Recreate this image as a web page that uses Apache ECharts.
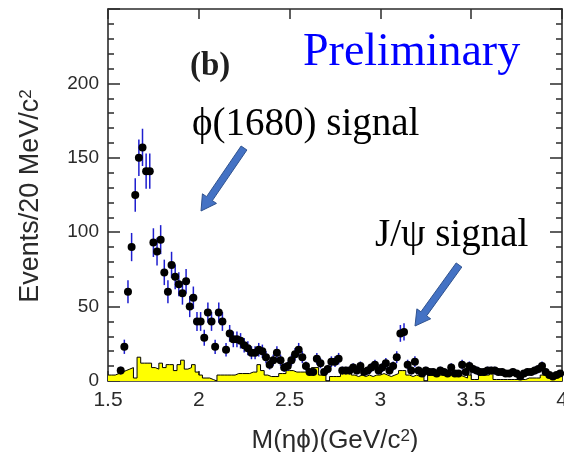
<!DOCTYPE html>
<html>
<head>
<meta charset="utf-8">
<title>M(ηϕ) spectrum</title>
<script src="https://cdn.jsdelivr.net/npm/echarts@6/dist/echarts.min.js"></script>
<style>
  html, body { margin: 0; padding: 0; background: #ffffff; }
  #chart { width: 564px; height: 452px; }
</style>
</head>
<body>
<div id="chart"></div>
<script>
// Events per 20 MeV/c^2 bin; first data bin centred at 1.57 GeV/c^2
const DATA_FIRST_CENTER = 1.57;
const BIN_WIDTH = 0.02;
const dataCounts = [
  7, 23, 60, 90, 125, 150, 157, 141, 141, 93,
  87, 95, 73, 60, 78, 70, 65, 59, 67, 50,
  56, 40, 40, 29, 46, 40, 23, 46, 40, 21,
  32, 28, 28, 27, 24, 22, 19, 19, 21, 20,
  16, 11, 14, 19, 14, 9, 10, 14, 18, 21,
  16, 10, 6, 6, 15, 12, 6, 8, 13, 13,
  15, 7, 7, 7, 9, 7, 10, 6, 7, 9,
  11, 7, 9, 12, 7, 10, 16, 32, 33, 11,
  7, 13, 7, 5, 7, 6, 6, 5, 7, 6,
  5, 9, 5, 5, 11, 6, 10, 8, 7, 6,
  6, 7, 7, 7, 6, 6, 5, 5, 6, 5,
  3, 5, 6, 6, 7, 8, 10, 6, 4, 3,
  4, 5
];

// Background histogram (filled), bins of 20 MeV/c^2 starting at 1.50 GeV/c^2
const HIST_FIRST_EDGE = 1.50;
const histCounts = [
  4, 4, 5, 6, 7, 8, 9, 2, 16, 12,
  12, 12, 9, 8, 12, 9, 11, 11, 7, 11,
  14, 8, 9, 11, 6, 4, 2, 2, 1, 0,
  4, 4, 4, 4, 4, 5, 5, 5, 5, 6,
  6, 11, 7, 4, 3, 3, 3, 5, 5, 7,
  7, 6, 6, 6, 6, 7, 9, 9, 4, 4,
  0, 3, 3, 3, 5, 6, 6, 4, 3, 4,
  3, 4, 3, 4, 4, 5, 4, 3, 4, 5,
  7, 7, 4, 3, 4, 3, 3, 0, 4, 4,
  4, 4, 4, 4, 4, 4, 4, 3, 2, 4,
  1, 1, 4, 4, 4, 6, 1, 1, 1, 1,
  1, 1, 1, 1, 1, 2, 2, 2, 2, 4,
  4, 4, 4, 4, 6
];

// Axis ranges and tick labels
const X_RANGE = [1.5, 4.0];
const X_STEP = 0.5;
const xTickLabels = ['1.5', '2', '2.5', '3', '3.5', '4'];
const Y_RANGE = [0, 250];
const Y_STEP = 50;
const yTickLabels = ['0', '50', '100', '150', '200'];

const round2 = v => Math.round(v * 100) / 100;

// Build the series data from the arrays above
const points = dataCounts.map((n, i) => [round2(DATA_FIRST_CENTER + i * BIN_WIDTH), n]);
const errors = dataCounts.map((n, i) => [round2(DATA_FIRST_CENTER + i * BIN_WIDTH), n, Math.sqrt(n)]);
const histSteps = histCounts.map((n, i) => [round2(HIST_FIRST_EDGE + i * BIN_WIDTH), n]);
histSteps.push([round2(HIST_FIRST_EDGE + histCounts.length * BIN_WIDTH), histCounts[histCounts.length - 1]]);

const frameColor = '#2b2b2b';
const labelFont = '"Liberation Sans", Arial, Helvetica, sans-serif';
const serifFont = '"Liberation Serif", "Times New Roman", "DejaVu Serif", serif';

function fmtX(v) {
  const s = String(round2(v));
  return xTickLabels.indexOf(s) >= 0 ? s : '';
}
function fmtY(v) {
  const s = String(Math.round(v));
  return yTickLabels.indexOf(s) >= 0 ? s : '';
}

const tickStyle = { color: frameColor, width: 1.5 };

function makeXAxis(top) {
  return {
    type: 'value', min: X_RANGE[0], max: X_RANGE[1], interval: X_STEP,
    position: top ? 'top' : 'bottom',
    axisLine: { show: true, onZero: false, lineStyle: { color: frameColor, width: 1.6 } },
    axisTick: { show: true, inside: true, length: 10, lineStyle: tickStyle },
    minorTick: { show: false },
    axisLabel: top ? { show: false } : {
      show: true, showMinLabel: true, showMaxLabel: true, hideOverlap: false,
      color: '#2a2a2a', fontSize: 21, fontFamily: labelFont, margin: 9, formatter: fmtX
    },
    splitLine: { show: false }
  };
}
function makeYAxis(right) {
  return {
    type: 'value', min: Y_RANGE[0], max: Y_RANGE[1], interval: Y_STEP,
    position: right ? 'right' : 'left',
    axisLine: { show: true, onZero: false, lineStyle: { color: frameColor, width: 1.6 } },
    axisTick: { show: true, inside: true, length: 12, lineStyle: tickStyle },
    minorTick: { show: true, splitNumber: 5, length: 6, lineStyle: tickStyle },
    axisLabel: right ? { show: false } : {
      show: true, showMinLabel: true, showMaxLabel: true, hideOverlap: false,
      color: '#2a2a2a', fontSize: 19, fontFamily: labelFont, margin: 9, formatter: fmtY
    },
    splitLine: { show: false }
  };
}

// Block arrow polygon from tail to tip
function arrowPoints(tail, tip, shaftW, headW, headL) {
  const dx = tip[0] - tail[0], dy = tip[1] - tail[1];
  const L = Math.hypot(dx, dy);
  const ux = dx / L, uy = dy / L, nx = -uy, ny = ux;
  const bx = tip[0] - ux * headL, by = tip[1] - uy * headL;
  const s = shaftW / 2, h = headW / 2;
  return [
    [tail[0] + nx * s, tail[1] + ny * s],
    [bx + nx * s, by + ny * s],
    [bx + nx * h, by + ny * h],
    [tip[0], tip[1]],
    [bx - nx * h, by - ny * h],
    [bx - nx * s, by - ny * s],
    [tail[0] - nx * s, tail[1] - ny * s]
  ];
}
const arrowStyle = { fill: '#4472c4', stroke: '#2f528f', lineWidth: 1 };

const chart = echarts.init(document.getElementById('chart'), null, { renderer: 'canvas' });

chart.setOption({
  animation: false,
  backgroundColor: '#ffffff',
  grid: { left: 108, right: 2, top: 9, bottom: 71, containLabel: false, outerBoundsMode: 'none' },
  xAxis: [makeXAxis(false), makeXAxis(true)],
  yAxis: [makeYAxis(false), makeYAxis(true)],
  series: [
    {
      name: 'background',
      type: 'line',
      step: 'end',
      data: histSteps,
      xAxisIndex: 0, yAxisIndex: 0,
      symbol: 'none',
      lineStyle: { color: '#000000', width: 1 },
      areaStyle: { color: '#ffff00', opacity: 1 },
      z: 2,
      silent: true
    },
    {
      name: 'errors',
      type: 'custom',
      data: errors,
      xAxisIndex: 0, yAxisIndex: 0,
      z: 3,
      renderItem: function (params, api) {
        const x = api.value(0), n = api.value(1), e = api.value(2);
        const p1 = api.coord([x, Math.max(0, n - e)]);
        const p2 = api.coord([x, n + e]);
        return {
          type: 'line',
          shape: { x1: p1[0], y1: p1[1], x2: p2[0], y2: p2[1] },
          style: { stroke: '#1e1ecf', lineWidth: 1.5 }
        };
      }
    },
    {
      name: 'data',
      type: 'scatter',
      data: points,
      xAxisIndex: 0, yAxisIndex: 0,
      symbol: 'circle',
      symbolSize: 8,
      itemStyle: { color: '#000000', opacity: 1 },
      z: 4
    }
  ],
  graphic: [
    {
      type: 'text', x: 31, y: 196, rotation: Math.PI / 2,
      style: {
        text: 'Events/20 MeV/c{s|2}',
        fontSize: 27, fontFamily: labelFont, fill: '#2a2a2a',
        align: 'center', verticalAlign: 'middle',
        rich: { s: { fontSize: 17, fontFamily: labelFont, fill: '#2a2a2a', verticalAlign: 'top' } }
      }
    },
    {
      type: 'text', x: 335, y: 441,
      style: {
        text: 'M(ηϕ)(GeV/c{s|2})',
        fontSize: 26, fontFamily: labelFont, fill: '#2a2a2a',
        align: 'center', verticalAlign: 'middle',
        rich: { s: { fontSize: 17, fontFamily: labelFont, fill: '#2a2a2a', verticalAlign: 'top' } }
      }
    },
    {
      type: 'text', x: 190, y: 66,
      style: {
        text: '(b)', fontSize: 33, fontWeight: 'bold', fontFamily: serifFont,
        fill: '#1f1f1f', align: 'left', verticalAlign: 'middle'
      }
    },
    {
      type: 'text', x: 303, y: 53,
      style: {
        text: 'Preliminary', fontSize: 46, fontFamily: serifFont,
        fill: '#0000ff', align: 'left', verticalAlign: 'middle'
      }
    },
    {
      type: 'text', x: 192, y: 125,
      style: {
        text: 'ϕ(1680) signal', fontSize: 39, fontFamily: serifFont,
        fill: '#000000', align: 'left', verticalAlign: 'middle'
      }
    },
    {
      type: 'text', x: 375, y: 236,
      style: {
        text: 'J/ψ signal', fontSize: 39, fontFamily: serifFont,
        fill: '#000000', align: 'left', verticalAlign: 'middle'
      }
    },
    {
      type: 'polygon',
      shape: { points: arrowPoints([244, 148], [201, 211], 7, 17, 15) },
      style: arrowStyle
    },
    {
      type: 'polygon',
      shape: { points: arrowPoints([459, 265], [415, 326], 7, 17, 15) },
      style: arrowStyle
    }
  ]
});
</script>
</body>
</html>
